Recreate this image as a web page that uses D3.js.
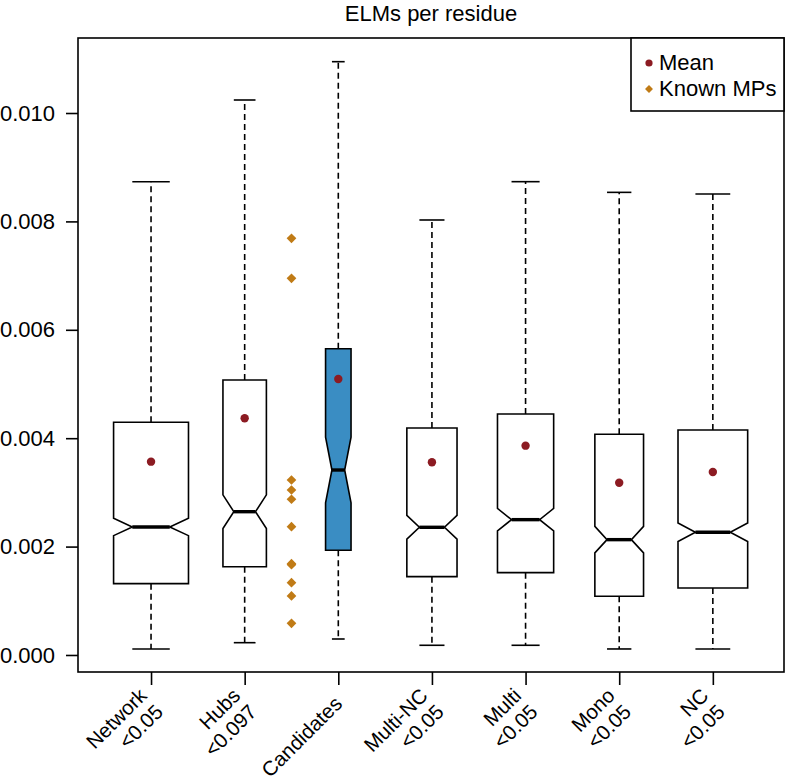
<!DOCTYPE html>
<html>
<head>
<meta charset="utf-8">
<script src="https://cdn.jsdelivr.net/npm/d3@7"></script>
<style>
  html, body { margin: 0; padding: 0; background: #fff; }
  svg { display: block; font-family: "Liberation Sans", Arial, Helvetica, sans-serif; }
</style>
</head>
<body>
<div id="chart"></div>
<script>
// Catégories (une ligne de libellé par élément)
const labels = [
  ["Network", "<0.05"],
  ["Hubs", "<0.097"],
  ["Candidates"],
  ["Multi-NC", "<0.05"],
  ["Multi", "<0.05"],
  ["Mono", "<0.05"],
  ["NC", "<0.05"]
];

// Statistiques des boîtes
const whiskerLow  = [0.000111, 0.000227, 0.000295, 0.000179, 0.000179, 0.000111, 0.000111];
const q1          = [0.001316, 0.001629, 0.001932, 0.001445, 0.001519, 0.001083, 0.001236];
const median      = [0.002362, 0.002644, 0.003413, 0.002356, 0.002497, 0.002128, 0.002264];
const q3          = [0.004293, 0.005074, 0.005651, 0.004188, 0.004446, 0.004072, 0.004151];
const whiskerHigh = [0.008733, 0.010240, 0.010947, 0.008026, 0.008733, 0.008536, 0.008506];
const notchHalf   = [0.00016, 0.00031, 0.000605, 0.00022, 0.000206, 0.000245, 0.00017];
const means       = [0.003567, 0.004367, 0.005092, 0.003555, 0.003862, 0.003179, 0.003376];
// sqrt(n) relatif (varwidth)
const relWidth    = [1.0, 0.58, 0.34, 0.67, 0.75, 0.65, 0.93];

// Known MPs (entre Hubs et Candidates)
const knownMPs = [0.007688, 0.006950, 0.003229, 0.003044, 0.002873, 0.002367,
                  0.001685, 0.001665, 0.001334, 0.001089, 0.000585];
const knownPos = 2.5;

const yTicks = [0, 0.002, 0.004, 0.006, 0.008, 0.010];

const width = 788;
const height = 780;
const plot = { left: 78, right: 784, top: 38, bottom: 672 };

const meanColor = "#8c1b22";
const mpColor = "#c07b16";
const candFill = "#3a8dc3";
const fontSize = 22;

const svg = d3.select("#chart").append("svg")
  .attr("width", width)
  .attr("height", height);

const x = d3.scaleLinear().domain([0.22, 7.76]).range([plot.left, plot.right]);
const y = d3.scaleLinear().domain([-0.000314, 0.011384]).range([plot.bottom, plot.top]);

// Titre
svg.append("text")
  .attr("x", (plot.left + plot.right) / 2)
  .attr("y", 21)
  .attr("text-anchor", "middle")
  .attr("font-size", fontSize)
  .text("ELMs per residue");

// Axe Y
const yAxis = svg.append("g")
  .attr("transform", `translate(${plot.left},0)`)
  .call(d3.axisLeft(y).tickValues(yTicks).tickFormat(d3.format(".3f")).tickSize(12).tickPadding(11));
yAxis.select(".domain").remove();
yAxis.selectAll("line").attr("stroke", "#000").attr("stroke-width", 1.6);
yAxis.selectAll("text").attr("font-size", fontSize).attr("font-family", null).attr("fill", "#000");

// Axe X (ticks seulement)
const xAxis = svg.append("g")
  .attr("transform", `translate(0,${plot.bottom})`)
  .call(d3.axisBottom(x).tickValues(d3.range(1, 8)).tickSize(13).tickFormat(""));
xAxis.select(".domain").remove();
xAxis.selectAll("line").attr("stroke", "#000").attr("stroke-width", 1.6);

// Libellés inclinés
const lineH = 23;
labels.forEach((lines, i) => {
  const t = svg.append("text")
    .attr("transform", `translate(${x(i + 1)},700) rotate(-45)`)
    .attr("text-anchor", "end")
    .attr("font-size", 20.5);
  lines.forEach((ln, j) => {
    t.append("tspan")
      .attr("x", 0)
      .attr("y", (j - (lines.length - 1) / 2) * lineH)
      .attr("dy", "0.35em")
      .text(ln);
  });
});

// Boîtes à encoches
const boxes = svg.append("g");
for (let i = 0; i < labels.length; i++) {
  const c = x(i + 1);
  const w = x(1 + 0.4 * relWidth[i]) - x(1);
  const cap = w / 2;
  const g = boxes.append("g");

  // moustaches
  g.append("line")
    .attr("x1", c).attr("x2", c)
    .attr("y1", y(q3[i])).attr("y2", y(whiskerHigh[i]))
    .attr("stroke", "#000").attr("stroke-width", 1.6).attr("stroke-dasharray", "6,4");
  g.append("line")
    .attr("x1", c).attr("x2", c)
    .attr("y1", y(q1[i])).attr("y2", y(whiskerLow[i]))
    .attr("stroke", "#000").attr("stroke-width", 1.6).attr("stroke-dasharray", "6,4");
  [whiskerHigh[i], whiskerLow[i]].forEach(v => {
    g.append("line")
      .attr("x1", c - cap).attr("x2", c + cap)
      .attr("y1", y(v)).attr("y2", y(v))
      .attr("stroke", "#000").attr("stroke-width", 1.6);
  });

  const nLo = median[i] - notchHalf[i];
  const nHi = median[i] + notchHalf[i];
  const pts = [
    [c - w, y(q1[i])], [c - w, y(nLo)], [c - w / 2, y(median[i])], [c - w, y(nHi)],
    [c - w, y(q3[i])], [c + w, y(q3[i])], [c + w, y(nHi)], [c + w / 2, y(median[i])],
    [c + w, y(nLo)], [c + w, y(q1[i])]
  ];
  g.append("path")
    .attr("d", d3.line()(pts) + "Z")
    .attr("fill", i === 2 ? candFill : "#fff")
    .attr("stroke", "#000")
    .attr("stroke-width", 1.6)
    .attr("stroke-linejoin", "miter");
  g.append("line")
    .attr("x1", c - w / 2).attr("x2", c + w / 2)
    .attr("y1", y(median[i])).attr("y2", y(median[i]))
    .attr("stroke", "#000").attr("stroke-width", 3.4);

  // moyenne
  g.append("circle")
    .attr("cx", c).attr("cy", y(means[i]))
    .attr("r", 4.2)
    .attr("fill", meanColor);
}

// Known MPs
svg.append("g").selectAll("path")
  .data(knownMPs)
  .join("path")
  .attr("d", d3.symbol(d3.symbolDiamond2, 60))
  .attr("transform", d => `translate(${x(knownPos)},${y(d)})`)
  .attr("fill", mpColor);

// Cadre
svg.append("rect")
  .attr("x", plot.left).attr("y", plot.top)
  .attr("width", plot.right - plot.left).attr("height", plot.bottom - plot.top)
  .attr("fill", "none").attr("stroke", "#000").attr("stroke-width", 1.6);

// Légende
const leg = svg.append("g");
leg.append("rect")
  .attr("x", 631).attr("y", plot.top)
  .attr("width", plot.right - 631).attr("height", 73)
  .attr("fill", "#fff").attr("stroke", "#000").attr("stroke-width", 1.6);
leg.append("circle").attr("cx", 649).attr("cy", 63).attr("r", 3.6).attr("fill", meanColor);
leg.append("path")
  .attr("d", d3.symbol(d3.symbolDiamond2, 40))
  .attr("transform", "translate(649,89)")
  .attr("fill", mpColor);
leg.append("text").attr("x", 659).attr("y", 70).attr("font-size", fontSize).text("Mean");
leg.append("text").attr("x", 659).attr("y", 96).attr("font-size", fontSize).text("Known MPs");
</script>
</body>
</html>
